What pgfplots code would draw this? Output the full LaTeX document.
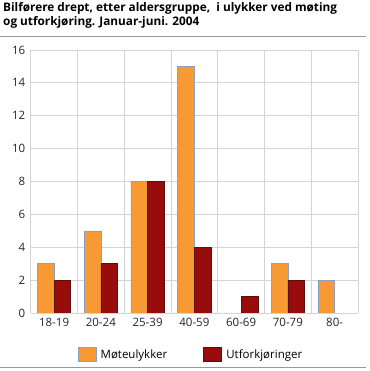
\documentclass[border=0pt]{standalone}
\usepackage{pgfplots}
\pgfplotsset{compat=1.18}
\usepackage{fontspec}
\setmainfont{Open Sans}
\definecolor{orangeb}{HTML}{F79A33}
\definecolor{redb}{HTML}{990C0C}
\definecolor{gridc}{HTML}{D4D4D4}
\definecolor{edgeo}{HTML}{8CA0C0}
\definecolor{edger}{HTML}{5A1010}
\begin{document}
\begin{tikzpicture}
\useasboundingbox (0,0) rectangle (369pt,371pt);
\node[anchor=north west, inner sep=0, align=left, font=\bfseries\fontsize{11.8}{14.5}\selectfont] at (3pt,369pt) {Bilførere drept, etter aldersgruppe,\ \ i ulykker ved møting\\og utforkjøring. Januar-juni. 2004};
\draw[gray!80, line width=0.8pt] (0,335pt) -- (366pt,335pt);
\draw[gray!80, line width=0.8pt] (0,4pt) -- (366pt,4pt);
\begin{axis}[
 at={(30.7pt,58pt)}, anchor=south west, scale only axis, width=327.3pt, height=263pt,
 ybar, bar width=0.357,
 xmin=-0.5, xmax=6.5, ymin=0, ymax=16,
 xtick={0,...,6}, xticklabels={18-19,20-24,25-39,40-59,60-69,70-79,80-},
 minor xtick={-0.5,0.5,...,6.5},
 ytick={0,2,...,16},
 /pgf/number format/assume math mode=true,
 minor x grid style={gridc, line width=0.8pt},
 ymajorgrids, major grid style={gridc, line width=0.8pt},
 xminorgrids,
 axis line style={gridc, line width=0.8pt},
 axis x line*=bottom, axis y line*=left,
 major tick length=0pt, minor tick length=0pt,
 tick label style={font=\fontsize{11.5}{13}\selectfont, color=black!85},
 yticklabel style={xshift=-2pt},
 xticklabel style={yshift=-2pt},
 legend style={at={(0.1425,-0.1586)}, anchor=west, draw=none, fill=none, legend columns=2, inner sep=0pt,
   font=\fontsize{11.5}{13}\selectfont,
   /tikz/every odd column/.append style={column sep=2.5pt},
   /tikz/every even column/.append style={column sep=34pt}},
 legend image code/.code={\draw[#1] (0pt,-7pt) rectangle (18pt,7pt);},
]
\addplot[fill=orangeb, draw=edgeo, line width=0.6pt, bar shift=-0.1785] coordinates {(0,3) (1,5) (2,8) (3,15) (5,3) (6,2)};
\addplot[fill=redb, draw=edger, line width=0.6pt, bar shift=0.1785] coordinates {(0,2) (1,3) (2,8) (3,4) (4,1) (5,2)};
\legend{Møteulykker, Utforkjøringer}
\end{axis}
\end{tikzpicture}
\end{document}
